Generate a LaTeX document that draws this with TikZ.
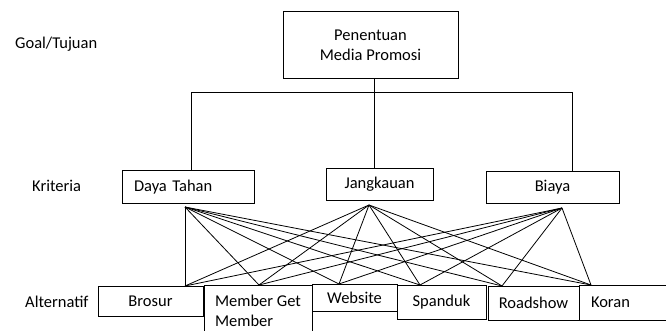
\documentclass[tikz,border=0pt]{standalone}
\usepackage{fontspec}
\setmainfont{Carlito}
\usetikzlibrary{positioning}

\begin{document}
\begin{tikzpicture}[x=1pt,y=-1pt,font=\fontsize{16.5}{21}\selectfont,
    box/.style={draw,line width=1pt,inner sep=0pt},
    lbl/.style={anchor=west,inner sep=0pt},
    link/.style={line width=0.8pt}]
   \clip (0,0) rectangle (666,331);

   % levels
   \node[lbl] (goal_l) at (15,44) {Goal/Tujuan};
   \node[lbl] (krit_l) at (32,186) {Kriteria};
   \node[lbl] (alt_l) at (25,302) {Alternatif};

   \node[box,minimum width=175pt,minimum height=67pt,align=center,font=\fontsize{16.5}{20}\selectfont] (goal) at (370.5,45.5) {Penentuan\\Media Promosi};

   \node[box,minimum width=132pt,minimum height=32pt,text width=108pt,align=left] (daya) at (188,187) {Daya Tahan};
   \node[box,minimum width=107pt,minimum height=31pt] (jangk) at (379.5,184.5) {Jangkauan};
   \node[box,minimum width=133pt,minimum height=31pt] (biaya) at (552.5,187.5) {Biaya};

   \node[box,minimum width=105pt,minimum height=30pt] (brosur) at (150.5,301) {Brosur};
   \node[box,minimum width=108pt,minimum height=52pt,align=left,font=\fontsize{16.5}{20}\selectfont] (member) at (258,311) {Member Get\\Member};
   \node[box,minimum width=85pt,minimum height=27pt] (website) at (354.5,297.5) {Website};
   \node[box,minimum width=89pt,minimum height=34pt] (spanduk) at (441.5,302) {Spanduk};
   \node[box,minimum width=91pt,minimum height=34pt] (roadshow) at (533.5,303) {Roadshow};
   \node[box,minimum width=111pt,minimum height=35pt,text width=87pt,align=left] (koran) at (634.5,302.5) {Koran};

   % tree from goal to kriteria
   \coordinate (tl) at (191,92.5);
   \coordinate (tm) at (374,92.5);
   \coordinate (tr) at (572.5,92.5);
   \draw[link] (tl) -- (tr);
   \draw[link] (goal.south -| tm) -- (jangk.north -| tm);
   \draw[link] (tl) -- (daya.north -| tl);
   \draw[link] (tr) -- (biaya.north -| tr);

   % kriteria to alternatif
   \coordinate (daya-p) at (185,207);
   \coordinate (jangk-p) at (369,205);
   \coordinate (biaya-p) at (562,208);
   \coordinate (brosur-p) at (185,286);
   \coordinate (member-p) at (259,285);
   \coordinate (website-p) at (339,284);
   \coordinate (spanduk-p) at (420,285);
   \coordinate (roadshow-p) at (502,286);
   \coordinate (koran-p) at (591,285);
   \foreach \k in {daya,jangk,biaya}
     \foreach \a in {brosur,member,website,spanduk,roadshow,koran}
       \draw[link] (\k-p) -- (\a-p);
\end{tikzpicture}
\end{document}
